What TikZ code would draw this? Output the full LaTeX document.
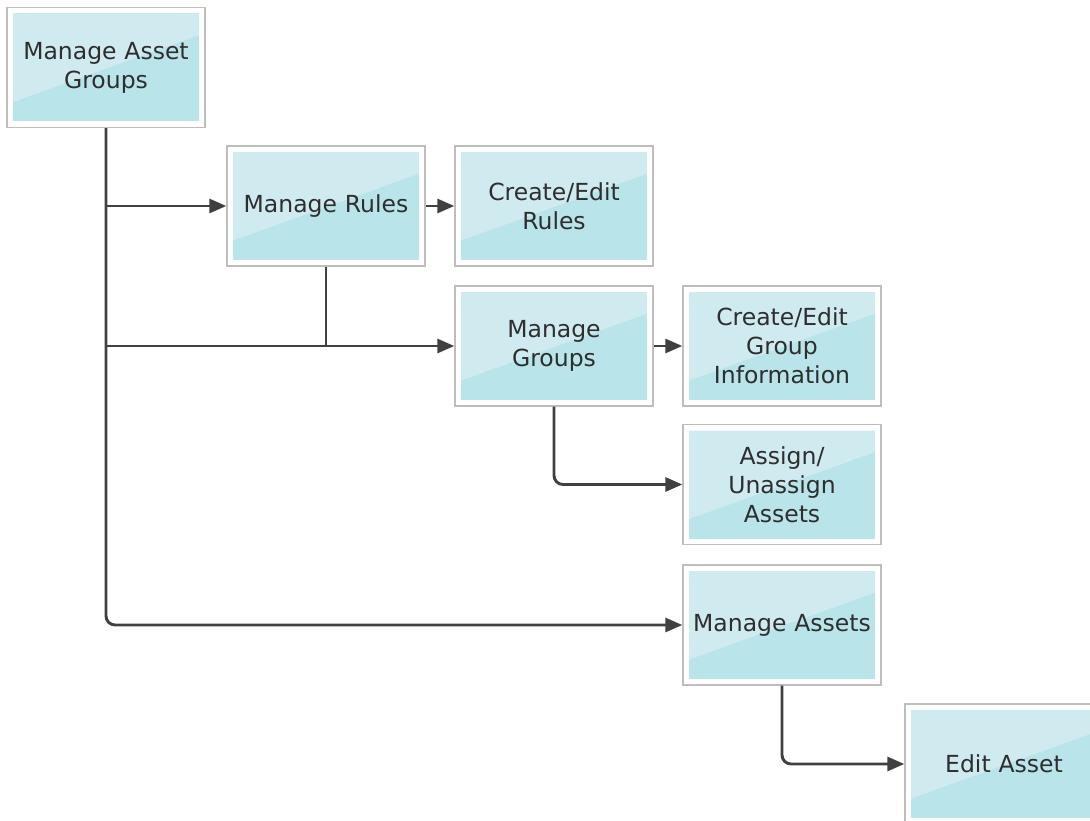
\documentclass[tikz,border=0pt]{standalone}
\usepackage{fontspec}
\setmainfont{DejaVu Sans}
\usetikzlibrary{arrows.meta,calc}
\definecolor{boxlight}{HTML}{CFEBF0}
\definecolor{boxdark}{HTML}{B9E4EA}
\definecolor{frame}{HTML}{BDBDBD}
\definecolor{conn}{HTML}{404040}
\definecolor{txt}{HTML}{2E2E2E}
\tikzset{
  taskbox/.style={draw=frame, line width=1.3pt, fill=white,
    minimum width=198pt, minimum height=120pt, inner sep=0pt,
    text width=186pt, align=center, text=txt,
    font=\fontsize{23.5}{29}\selectfont,
    path picture={
      \coordinate (pa) at ([shift={(6pt,6pt)}]path picture bounding box.south west);
      \coordinate (pb) at ([shift={(-6pt,-6pt)}]path picture bounding box.north east);
      \fill[boxdark] (pa) rectangle (pb);
      \fill[boxlight] (pa |- pb) -- (pb) -- ($(pb)!0.2!(pb |- pa)$) -- ($(pa |- pb)!0.82!(pa)$) -- cycle;
    }},
  conn/.style={draw=conn, line width=2.9pt, rounded corners=9pt},
  arr/.style={conn, -{Triangle[length=17pt,width=14pt]}}
}
\begin{document}
\begin{tikzpicture}[x=1pt,y=-1pt]
\useasboundingbox (0,0) rectangle (1090,821);
\clip (0,0) rectangle (1090,821);
\node[taskbox] (mag) at (106,67.5) {Manage Asset\\Groups};
\node[taskbox] (mr) at (326,206) {Manage Rules};
\node[taskbox] (cer) at (554,206) {Create/Edit\\Rules};
\node[taskbox] (mg) at (554,346) {Manage\\Groups};
\node[taskbox] (cegi) at (782,346) {Create/Edit\\Group\\Information};
\node[taskbox] (aua) at (782,484.5) {Assign/\\Unassign\\Assets};
\node[taskbox] (ma) at (782,625) {Manage Assets};
\node[taskbox] (ea) at (1004,764) {Edit Asset};

\coordinate (j1) at (mag.south |- mr.west);
\coordinate (j2) at (mag.south |- mg.west);
\coordinate (j3) at (mr.south |- mg.west);

\draw[conn] (mag.south) -- (j2);
\draw[arr] (mag.south) |- (ma.west);
\draw[arr] (j1) -- (mr.west);
\draw[arr] (j2) -- (mg.west);
\draw[conn] (mr.south) -- (j3);
\draw[arr] (mr.east) -- (cer.west);
\draw[arr] (mg.east) -- (cegi.west);
\draw[arr] (mg.south) |- (aua.west);
\draw[arr] (ma.south) |- (ea.west);
\end{tikzpicture}
\end{document}
